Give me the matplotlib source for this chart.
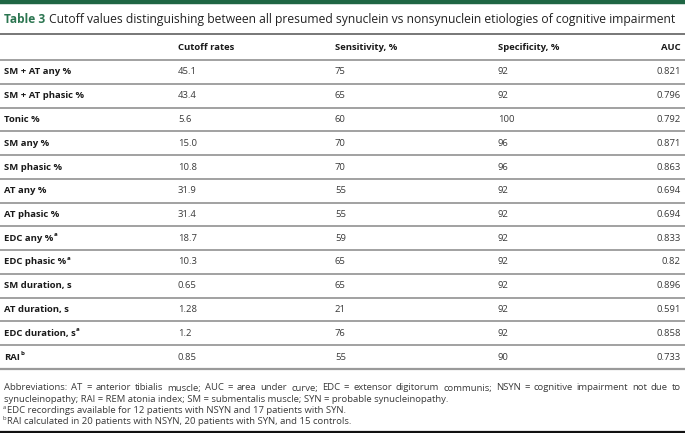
import matplotlib.pyplot as plt
from matplotlib import font_manager

# table content
labels = ["SM + AT any %", "SM + AT phasic %", "Tonic %", "SM any %", "SM phasic %",
          "AT any %", "AT phasic %", "EDC any %", "EDC phasic %", "SM duration, s",
          "AT duration, s", "EDC duration, s", "RAI"]
label_sup = ["", "", "", "", "", "", "", "a", "a", "", "", "a", "b"]
cutoff = ["45.1", "43.4", "5.6", "15.0", "10.8", "31.9", "31.4", "18.7", "10.3",
          "0.65", "1.28", "1.2", "0.85"]
sensitivity = ["75", "65", "60", "70", "70", "55", "55", "59", "65", "65", "21", "76", "55"]
specificity = ["92", "92", "100", "96", "96", "92", "92", "92", "92", "92", "92", "92", "90"]
auc = ["0.821", "0.796", "0.792", "0.871", "0.863", "0.694", "0.694", "0.833", "0.82",
       "0.896", "0.591", "0.858", "0.733"]
headers = ["Cutoff rates", "Sensitivity, %", "Specificity, %", "AUC"]

title_num = "Table 3"
title_text = "Cutoff values distinguishing between all presumed synuclein vs nonsynuclein etiologies of cognitive impairment"
abbrev_line1 = ("Abbreviations: AT = anterior tibialis muscle; AUC = area under curve; EDC = extensor "
                "digitorum communis; NSYN = cognitive impairment not due to")
abbrev_line2 = ("synucleinopathy; RAI = REM atonia index; SM = submentalis muscle; "
                "SYN = probable synucleinopathy.")
notes = [("a", "EDC recordings available for 12 patients with NSYN and 17 patients with SYN."),
         ("b", "RAI calculated in 20 patients with NSYN, 20 patients with SYN, and 15 controls.")]

names = {f.name for f in font_manager.fontManager.ttflist}
body_font = "Open Sans" if "Open Sans" in names else "DejaVu Sans"
narrow_font = "Liberation Sans Narrow" if "Liberation Sans Narrow" in names else body_font

W, H = 685, 433
fig = plt.figure(figsize=(W / 100, H / 100), dpi=100)
ax = fig.add_axes([0, 0, 1, 1])
ax.set_xlim(0, W)
ax.set_ylim(H, 0)
ax.axis("off")
fig.canvas.draw()
renderer = fig.canvas.get_renderer()


def px_width(t):
    return t.get_window_extent(renderer=renderer).width


green = "#2b7550"
txt = "#3a3a3a"
lab = "#1a1a1a"
rule = "#9a9a9a"
fs = 6.8      # body points
fs_note = 6.8

# top bar
ax.axhline(1.5, color="#1f6644", lw=3.2)

# title, largest size that still ends inside the right margin
title_fs = 8.6
t = ax.text(4, 19.5, title_num, fontsize=title_fs, fontweight="bold", color=green,
            family=narrow_font, va="center")
w = px_width(t)
x_title = 4 + w + 4
t2 = ax.text(x_title, 19.5, title_text, fontsize=8.9, color="#222222",
             family=narrow_font, va="center")
size = 8.9
while x_title + px_width(t2) > 680 and size > 7:
    size -= 0.05
    t2.set_fontsize(size)

ax.axhline(33.5, color="#606060", lw=1.2)

# header
col_x = [178, 335, 498, 681]
for i, h in enumerate(headers):
    ax.text(col_x[i], 48, h, fontsize=fs, fontweight="bold", color=lab, family=body_font,
            va="center", ha="right" if i == 3 else "left")
ax.axhline(60, color=rule, lw=1.3)

y0, step = 72, 23.75
for i in range(len(labels)):
    y = y0 + i * step
    t = ax.text(4, y, labels[i], fontsize=fs, fontweight="bold", color=lab,
                family=body_font, va="center")
    if label_sup[i]:
        w = px_width(t)
        ax.text(4 + w + 0.5, y - 3.5, label_sup[i], fontsize=4.4, fontweight="bold",
                color=lab, family=body_font, va="center")
    vals = [cutoff[i], sensitivity[i], specificity[i], auc[i]]
    for j, v in enumerate(vals):
        ax.text(col_x[j], y, v, fontsize=fs, color=txt, family=body_font, va="center",
                ha="right" if j == 3 else "left")
    ax.axhline(y + step / 2, color=rule, lw=1.6 if i == len(labels) - 1 else 1.3)

# abbreviations paragraph, first line justified
left, right = 4, 681
words = abbrev_line1.split(" ")
widths = []
for wd in words:
    tt = ax.text(0, 0, wd, fontsize=fs_note, family=body_font)
    widths.append(px_width(tt))
    tt.remove()
gap = (right - left - sum(widths)) / (len(words) - 1)
x = left
for k, wd in enumerate(words):
    ax.text(x, 388, wd, fontsize=fs_note, family=body_font, color=txt, va="center")
    x += widths[k] + gap
ax.text(left, 399.5, abbrev_line2, fontsize=fs_note, family=body_font,
        color=txt, va="center")

for k, (s, note) in enumerate(notes):
    y = 410.5 + k * 11
    ax.text(left - 1, y - 3, s, fontsize=4.2, family=body_font, color=txt, va="center")
    ax.text(left + 3, y, note, fontsize=fs_note, family=body_font, color=txt, va="center")

ax.axhline(432, color="#111111", lw=1.6)

fig.savefig("out.png", dpi=100)
